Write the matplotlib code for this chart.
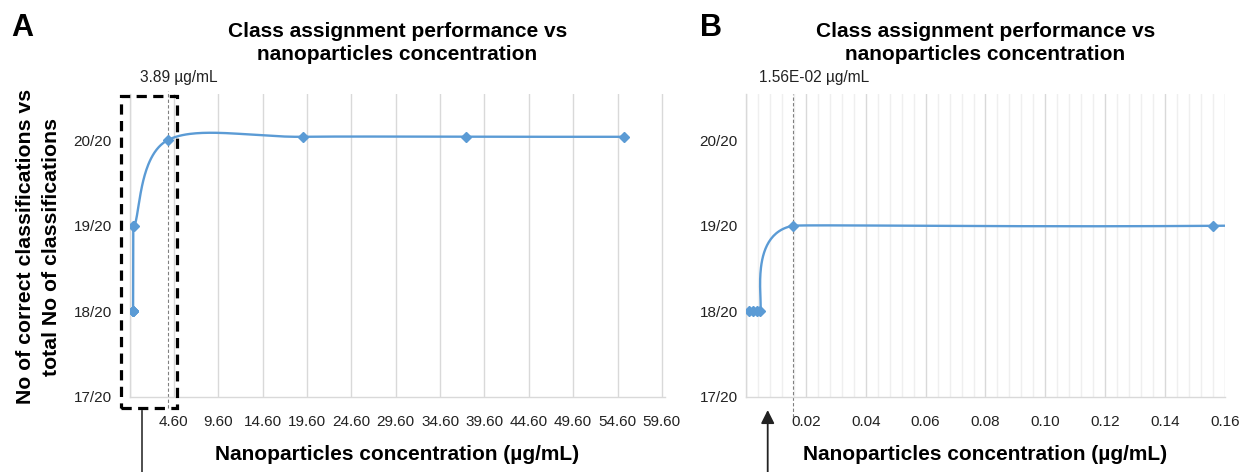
#! /usr/bin/env python3

import numpy as np
import matplotlib
matplotlib.use('Agg')
import matplotlib.pyplot as plt
from matplotlib.patches import Rectangle
from matplotlib.ticker import FixedLocator, MultipleLocator

plt.rcParams['font.family'] = ['Liberation Sans', 'DejaVu Sans']

# data (concentration in ug/mL, correct classifications out of 20)
conc = [0.0011, 0.0024, 0.0036, 0.0047, 0.0156, 0.156, 3.89, 19.1, 37.5, 55.3]
score = [18, 18, 18, 18, 19, 19, 20, 20.04, 20.04, 20.04]

y_ticks = [17, 18, 19, 20]
y_labels = ['17/20', '18/20', '19/20', '20/20']

ticks_a = [-0.4, 4.6, 9.6, 14.6, 19.6, 24.6, 29.6, 34.6, 39.6, 44.6, 49.6, 54.6, 59.6]
labels_a = ['', '4.60', '9.60', '14.60', '19.60', '24.60', '29.60', '34.60',
            '39.60', '44.60', '49.60', '54.60', '59.60']
ticks_b = [0.0, 0.02, 0.04, 0.06, 0.08, 0.10, 0.12, 0.14, 0.16]
labels_b = ['', '0.02', '0.04', '0.06', '0.08', '0.10', '0.12', '0.14', '0.16']

thresh_a = 3.89
thresh_b = 0.0156

title = 'Class assignment performance vs\nnanoparticles concentration'
xlab = 'Nanoparticles concentration (\u00b5g/mL)'
ylab = 'No of correct classifications vs\ntotal No of classifications'

BLUE = '#5B9BD5'
W, H = 1239, 472


def excel_smooth(pts):
    # Excel-like smoothed line: cubic bezier pieces with limited handles
    n = len(pts)
    out = [pts[0]]
    t = np.linspace(0, 1, 60)[1:, None]
    for i in range(n - 1):
        p0 = pts[i - 1] if i > 0 else pts[i]
        p1 = pts[i]
        p2 = pts[i + 1]
        p3 = pts[i + 2] if i + 2 < n else pts[i + 1]
        d02 = np.hypot(*(p2 - p0))
        d12 = np.hypot(*(p2 - p1))
        d13 = np.hypot(*(p3 - p1))
        if d02 / 6 < d12 / 2 and d13 / 6 < d12 / 2:
            f = 1 / 3 if np.allclose(p0, p1) else 1 / 6
            b1 = p1 + (p2 - p0) * f
            f = 1 / 3 if np.allclose(p2, p3) else 1 / 6
            b2 = p2 - (p3 - p1) * f
        elif d02 / 6 >= d12 / 2 and d13 / 6 >= d12 / 2:
            b1 = p1 + (p2 - p0) * d12 / 2 / d02
            b2 = p2 - (p3 - p1) * d12 / 2 / d13
        elif d02 / 6 >= d12 / 2:
            b1 = p1 + (p2 - p0) * d12 / 2 / d02
            b2 = p2 - (p3 - p1) * d12 / 2 / d02
        else:
            b1 = p1 + (p2 - p0) * d12 / 2 / d13
            b2 = p2 - (p3 - p1) * d12 / 2 / d13
        seg = ((1 - t) ** 3) * p1 + 3 * ((1 - t) ** 2) * t * b1 \
            + 3 * (1 - t) * t ** 2 * b2 + t ** 3 * p2
        out.extend(seg)
    return np.array(out)


def draw_series(ax):
    # smoothing done in screen space, like the spreadsheet does
    pix = ax.transData.transform(np.column_stack([conc, score]))
    curve = ax.transData.inverted().transform(excel_smooth(pix))
    ax.plot(curve[:, 0], curve[:, 1], color=BLUE, lw=1.7, zorder=3)
    ax.plot(conc, score, ls='none', marker='D', ms=5.5, color=BLUE, zorder=4)


def style_axes(ax, ticks, labels, ypad):
    ax.set_ylim(17, 20.54)
    ax.set_yticks(y_ticks)
    ax.set_yticklabels(y_labels)
    ax.xaxis.set_major_locator(FixedLocator(ticks))
    ax.set_xticklabels(labels)
    ax.tick_params(axis='both', which='both', length=0, labelsize=11, labelcolor='#222222')
    ax.tick_params(axis='x', pad=13)
    ax.tick_params(axis='y', pad=ypad)
    ax.grid(axis='x', which='major', color='#d9d9d9', lw=1.0)
    for s in ['top', 'right']:
        ax.spines[s].set_visible(False)
    for s in ['left', 'bottom']:
        ax.spines[s].set_color('#d9d9d9')
        ax.spines[s].set_linewidth(1.0)
    ax.set_axisbelow(True)


fig = plt.figure(figsize=(W / 100, H / 100), dpi=100)

bottom = 1 - 397 / H
height = (397 - 94) / H
ax_a = fig.add_axes([129.5 / W, bottom, (665 - 129.5) / W, height])
ax_b = fig.add_axes([746 / W, bottom, (1225 - 746) / W, height])

# panel A
ax_a.set_xlim(-0.4, 59.95)
style_axes(ax_a, ticks_a, labels_a, 12.6)
draw_series(ax_a)

trans_a = ax_a.get_xaxis_transform()
ax_a.plot([thresh_a, thresh_a], [-0.035, 1.01], transform=trans_a, clip_on=False,
          color='#808080', lw=0.8, ls=(0, (3, 2)), zorder=2)
ax_a.text(5.2, 1.056, '3.89 \u00b5g/mL', transform=trans_a, ha='center', va='center',
          fontsize=11.2, color='#222222')
ax_a.add_patch(Rectangle((-1.39, -0.035), 6.31, 1.028, transform=trans_a, fill=False,
                         ec='black', lw=2.3, ls=(0, (3.2, 2.0)), clip_on=False, zorder=5))
ax_a.plot([0.97, 0.97], [-0.045, -0.26], transform=trans_a, clip_on=False,
          color='#404040', lw=1.3)

# panel B
ax_b.set_xlim(0, 0.16)
style_axes(ax_b, ticks_b, labels_b, 5.8)
ax_b.xaxis.set_minor_locator(MultipleLocator(0.004))
ax_b.grid(axis='x', which='minor', color='#efefef', lw=1.0)
draw_series(ax_b)

trans_b = ax_b.get_xaxis_transform()
ax_b.plot([thresh_b, thresh_b], [-0.066, 1.0], transform=trans_b, clip_on=False,
          color='#808080', lw=0.8, ls=(0, (3, 2)), zorder=2)
ax_b.text(0.0227, 1.056, '1.56E-02 \u00b5g/mL', transform=trans_b, ha='center',
          va='center', fontsize=11.2, color='#222222')
ax_b.annotate('', xy=(0.00725, -0.043), xycoords=trans_b,
              xytext=(0.00725, -0.26), textcoords=trans_b,
              arrowprops=dict(arrowstyle='-|>', color='#222222', lw=1.3,
                              mutation_scale=20, shrinkA=0, shrinkB=0),
              annotation_clip=False)

# titles and axis labels
for ax in (ax_a, ax_b):
    ax.text(0.5, 1.169, title, transform=ax.transAxes, ha='center', va='center',
            fontsize=15, fontweight='bold', linespacing=1.3)
    ax.text(0.5, -0.19, xlab, transform=ax.transAxes, ha='center', va='center',
            fontsize=15, fontweight='bold')

fig.text(38.5 / W, 1 - 246.5 / H, ylab, rotation=90, ha='center', va='center',
         fontsize=15.3, fontweight='bold', linespacing=1.45)
fig.text(22 / W, 1 - 28 / H, 'A', ha='center', va='center', fontsize=22, fontweight='bold')
fig.text(711 / W, 1 - 28 / H, 'B', ha='center', va='center', fontsize=22, fontweight='bold')

fig.savefig('out.png', dpi=100)
